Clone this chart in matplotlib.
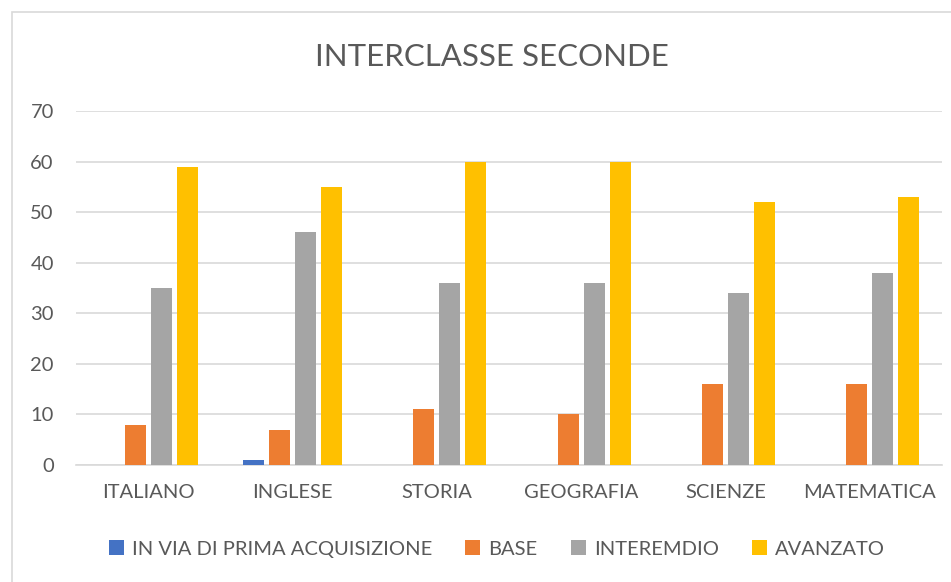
import numpy as np
import matplotlib.pyplot as plt
from matplotlib.patches import Rectangle

categories = ["ITALIANO", "INGLESE", "STORIA", "GEOGRAFIA", "SCIENZE", "MATEMATICA"]
series_names = ["IN VIA DI PRIMA ACQUISIZIONE", "BASE", "INTEREMDIO", "AVANZATO"]
prima = [0, 1, 0, 0, 0, 0]
base = [8, 7, 11, 10, 16, 16]
intermedio = [35, 46, 36, 36, 34, 38]
avanzato = [59, 55, 60, 60, 52, 53]
colors = ["#4472C4", "#ED7D31", "#A5A5A5", "#FFC000"]

plt.rcParams["font.family"] = ["Lato", "DejaVu Sans"]
txt = "#595959"
grid = "#d9d9d9"

fig = plt.figure(figsize=(9.51, 5.82), dpi=100)
fig.patches.append(Rectangle((12 / 951, -0.1), 1.2, 1 - 12 / 582 + 0.1,
                             transform=fig.transFigure, fill=False,
                             edgecolor=grid, linewidth=1.2))
ax = fig.add_axes([76 / 951, 117 / 582, 866 / 951, 354 / 582])

x = np.arange(len(categories))
step = 0.18
width = 0.145
for i, (vals, name) in enumerate(zip([prima, base, intermedio, avanzato], series_names)):
    ax.bar(x + (i - 1.5) * step, vals, width, color=colors[i], label=name, zorder=3)

ax.set_xlim(-0.5, len(categories) - 0.5)
ax.set_ylim(0, 70)
ax.set_yticks(range(0, 71, 10))
ax.set_xticks(x)
ax.set_xticklabels(categories)
ax.tick_params(length=0, labelsize=14.5, colors=txt, pad=14)
ax.tick_params(axis="y", pad=16)
ax.grid(axis="y", color=grid, linewidth=1.2, zorder=0)
for s in ["top", "right", "left"]:
    ax.spines[s].set_visible(False)
ax.spines["bottom"].set_color(grid)
ax.spines["bottom"].set_linewidth(1.2)

fig.text(492 / 951, 1 - 57 / 582, "INTERCLASSE SECONDE", ha="center", va="center",
         fontsize=22.5, color=txt)

handles, labels = ax.get_legend_handles_labels()
fig.legend(handles, labels, loc="center", bbox_to_anchor=(497 / 951, 1 - 549 / 582),
           ncol=4, frameon=False, fontsize=14.5, labelcolor=txt,
           handlelength=0.75, handleheight=0.75, handletextpad=0.4, columnspacing=1.65)

fig.savefig("out.png", dpi=100)
